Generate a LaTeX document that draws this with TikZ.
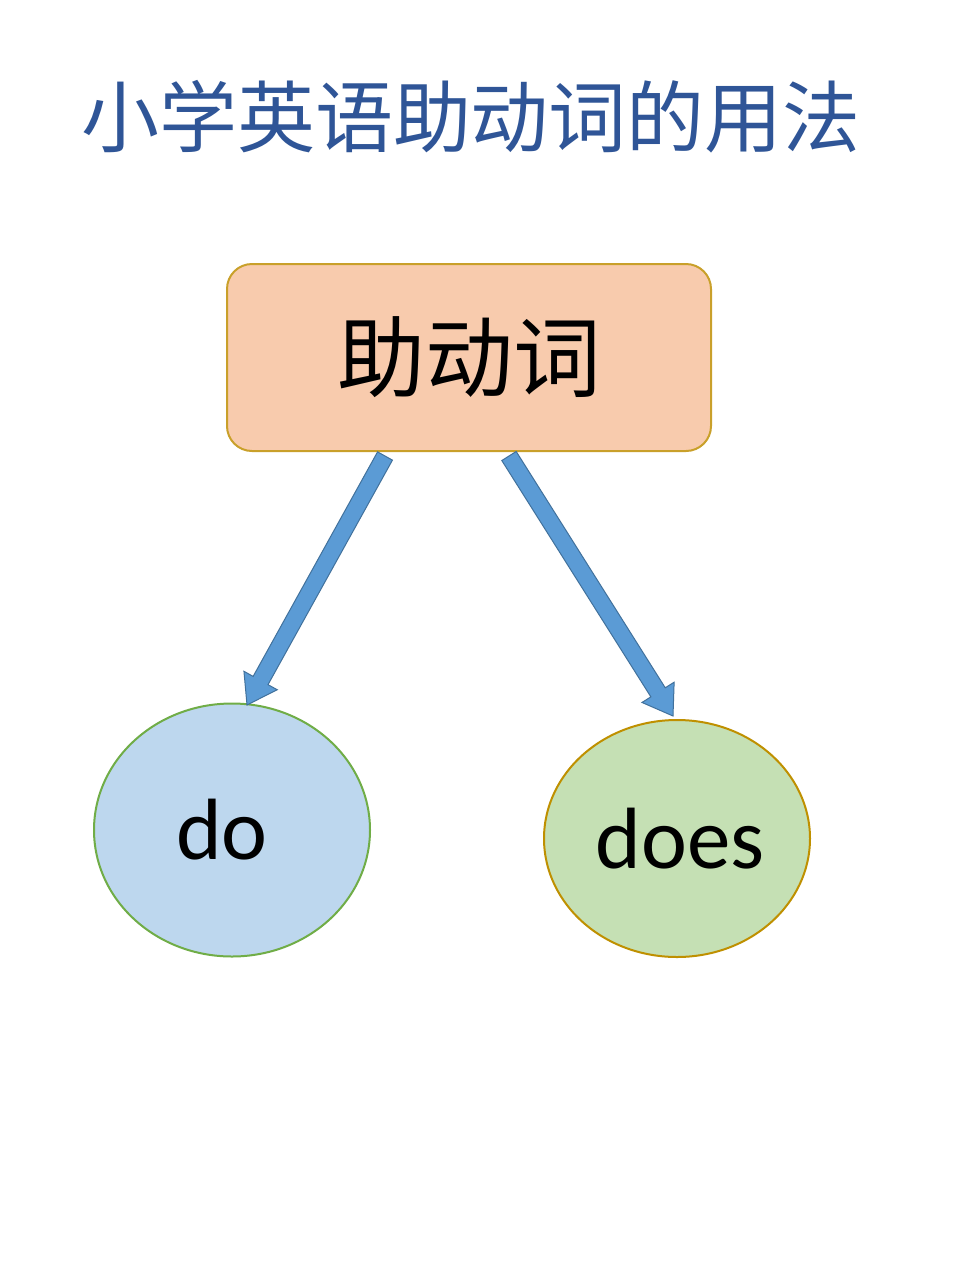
\documentclass[tikz,border=0pt]{standalone}
\usepackage{fontspec}
\setmainfont{Carlito}
\newfontfamily\cjk{Noto Sans CJK SC}
\usetikzlibrary{shapes.geometric,calc}
\definecolor{titleblue}{HTML}{2F5597}
\definecolor{boxfill}{HTML}{F8CBAD}
\definecolor{boxline}{HTML}{C9A02A}
\definecolor{dofill}{HTML}{BDD7EE}
\definecolor{doline}{HTML}{70AD47}
\definecolor{doesfill}{HTML}{C5E0B4}
\definecolor{doesline}{HTML}{BF9000}
\definecolor{arrfill}{HTML}{5B9BD5}
\definecolor{arrline}{HTML}{41719C}
\tikzset{
  mainbox/.style={draw=boxline, fill=boxfill, line width=2pt, rounded corners=25pt,
    minimum width=484pt, minimum height=187pt, inner sep=0pt,
    font=\cjk\fontsize{88}{88}\selectfont},
  leaf/.style={ellipse, line width=2pt, inner sep=0pt, font=\fontsize{87}{87}\selectfont},
  fatarrow/.style={fill=arrfill, draw=arrline, line width=1pt, line join=miter},
}
\newcommand{\fatarrowpath}[2]{%
  \coordinate (hb) at ($(#2)!28pt!(#1)$);
  \path[fatarrow] ($(#1)!8.5pt!90:(#2)$) -- ($(hb)!8.5pt!-90:(#1)$) -- ($(hb)!19pt!-90:(#1)$) -- (#2)
    -- ($(hb)!19pt!90:(#1)$) -- ($(hb)!8.5pt!90:(#1)$) -- ($(#1)!8.5pt!-90:(#2)$) -- cycle;}
\begin{document}
\begin{tikzpicture}[x=1pt,y=-1pt]
  \useasboundingbox[fill=white] (0,0) rectangle (961,1280);
  \node[text=titleblue, font=\cjk\fontsize{78}{78}\selectfont, inner sep=0pt] (title) at (471,117) {小学英语助动词的用法};
  \node[mainbox] (aux) at (469,357.5) {助动词};
  \node[leaf, fill=dofill, draw=doline, minimum width=276pt, minimum height=253pt] (do) at (232,830) {do\kern20pt};
  \node[leaf, fill=doesfill, draw=doesline, minimum width=266pt, minimum height=237pt] (does) at (677,838.5) {\kern6pt does};
  \coordinate (s1) at (385,456);
  \coordinate (t1) at (247,705);
  \coordinate (s2) at (509,456);
  \coordinate (t2) at (673,716);
  \fatarrowpath{s1}{t1}
  \fatarrowpath{s2}{t2}
\end{tikzpicture}
\end{document}
